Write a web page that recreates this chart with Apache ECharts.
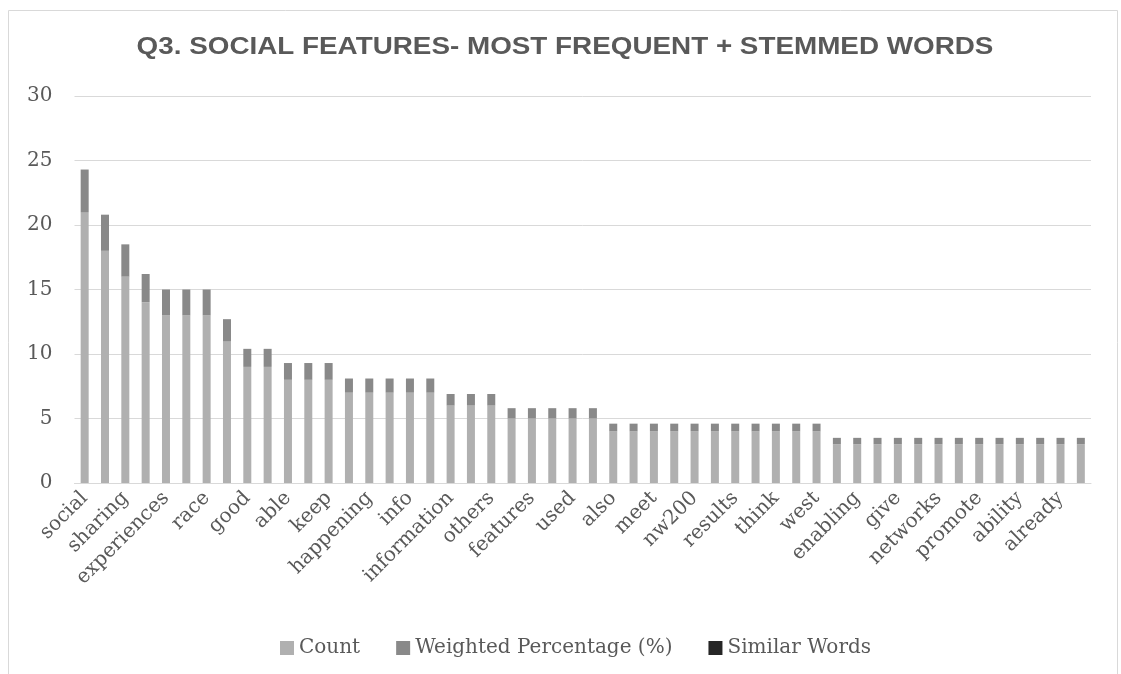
<!DOCTYPE html>
<html>
<head>
<meta charset="utf-8">
<script src="https://cdn.jsdelivr.net/npm/echarts@6/dist/echarts.min.js"></script>
<style>
  html, body { margin: 0; padding: 0; background: #fff; }
  #chart { width: 1121px; height: 674px; }
</style>
</head>
<body>
<div id="chart"></div>
<script>
// word categories (only every other one is labelled on the axis)
var words = [
  'social', 'media', 'sharing', 'share', 'experiences', 'people', 'race', 'friends',
  'good', 'see', 'able', 'connect', 'keep', 'community', 'happening', 'track',
  'info', 'updates', 'information', 'runners', 'others', 'compare', 'features', 'time',
  'used', 'like', 'also', 'know', 'meet', 'photos', 'nw200', 'event',
  'results', 'news', 'think', 'fans', 'west', 'chat', 'enabling', 'follow',
  'give', 'interact', 'networks', 'post', 'promote', 'useful', 'ability', 'allow',
  'already', 'better'
];
var countVals = [
  21, 18, 16, 14, 13, 13, 13, 11, 9, 9,
  8, 8, 8, 7, 7, 7, 7, 7, 6, 6,
  6, 5, 5, 5, 5, 5, 4, 4, 4, 4,
  4, 4, 4, 4, 4, 4, 4, 3, 3, 3,
  3, 3, 3, 3, 3, 3, 3, 3, 3, 3
];
var weightedVals = [
  3.3, 2.8, 2.5, 2.2, 2.0, 2.0, 2.0, 1.7, 1.4, 1.4,
  1.3, 1.3, 1.3, 1.1, 1.1, 1.1, 1.1, 1.1, 0.9, 0.9,
  0.9, 0.8, 0.8, 0.8, 0.8, 0.8, 0.6, 0.6, 0.6, 0.6,
  0.6, 0.6, 0.6, 0.6, 0.6, 0.6, 0.6, 0.5, 0.5, 0.5,
  0.5, 0.5, 0.5, 0.5, 0.5, 0.5, 0.5, 0.5, 0.5, 0.5
];
var similarVals = [
  0, 0, 0, 0, 0, 0, 0, 0, 0, 0,
  0, 0, 0, 0, 0, 0, 0, 0, 0, 0,
  0, 0, 0, 0, 0, 0, 0, 0, 0, 0,
  0, 0, 0, 0, 0, 0, 0, 0, 0, 0,
  0, 0, 0, 0, 0, 0, 0, 0, 0, 0
];
var titleText = 'Q3. SOCIAL FEATURES- MOST FREQUENT + STEMMED WORDS';

var serif = 'DejaVu Serif';
var myChart = echarts.init(document.getElementById('chart'));

myChart.setOption({
  animation: false,
  color: ['#b0b0b0', '#898989', '#262626'],
  graphic: [{
    type: 'rect',
    shape: { x: 8.5, y: 10.5, width: 1109, height: 700 },
    style: { fill: 'none', stroke: '#d9d9d9', lineWidth: 1 },
    silent: true
  }, {
    // title is drawn a little wider than the font, like the original
    type: 'text',
    x: 565,
    y: 48,
    scaleX: 1.21,
    style: {
      text: titleText,
      fontFamily: 'Liberation Sans',
      fontWeight: 'bold',
      fontSize: 23,
      fill: '#595959',
      align: 'center',
      verticalAlign: 'middle'
    },
    silent: true
  }],
  legend: {
    left: 275,
    top: 633,
    itemWidth: 14,
    itemHeight: 14,
    itemGap: 36,
    icon: 'rect',
    textStyle: { fontFamily: serif, fontSize: 20, color: '#595959' },
    data: ['Count', 'Weighted Percentage (%)', 'Similar Words']
  },
  grid: { left: 74.5, right: 30, top: 96, bottom: 191 },
  xAxis: {
    type: 'category',
    data: words,
    axisLine: { lineStyle: { color: '#d9d9d9', width: 1 } },
    axisTick: { show: false },
    axisLabel: {
      interval: 1,
      rotate: 45,
      margin: 12,
      fontFamily: serif,
      fontSize: 20,
      color: '#595959'
    }
  },
  yAxis: {
    type: 'value',
    min: 0,
    max: 30,
    interval: 5,
    axisLine: { show: false },
    axisTick: { show: false },
    splitLine: { lineStyle: { color: '#d9d9d9', width: 1 } },
    axisLabel: { margin: 22, fontFamily: serif, fontSize: 20, color: '#595959' }
  },
  series: [
    { name: 'Count', type: 'bar', stack: 'w', barWidth: 8, data: countVals },
    { name: 'Weighted Percentage (%)', type: 'bar', stack: 'w', barWidth: 8, data: weightedVals },
    { name: 'Similar Words', type: 'bar', stack: 'w', barWidth: 8, data: similarVals }
  ]
});
window.onresize = function () {
  myChart.resize();
};
</script>
</body>
</html>
